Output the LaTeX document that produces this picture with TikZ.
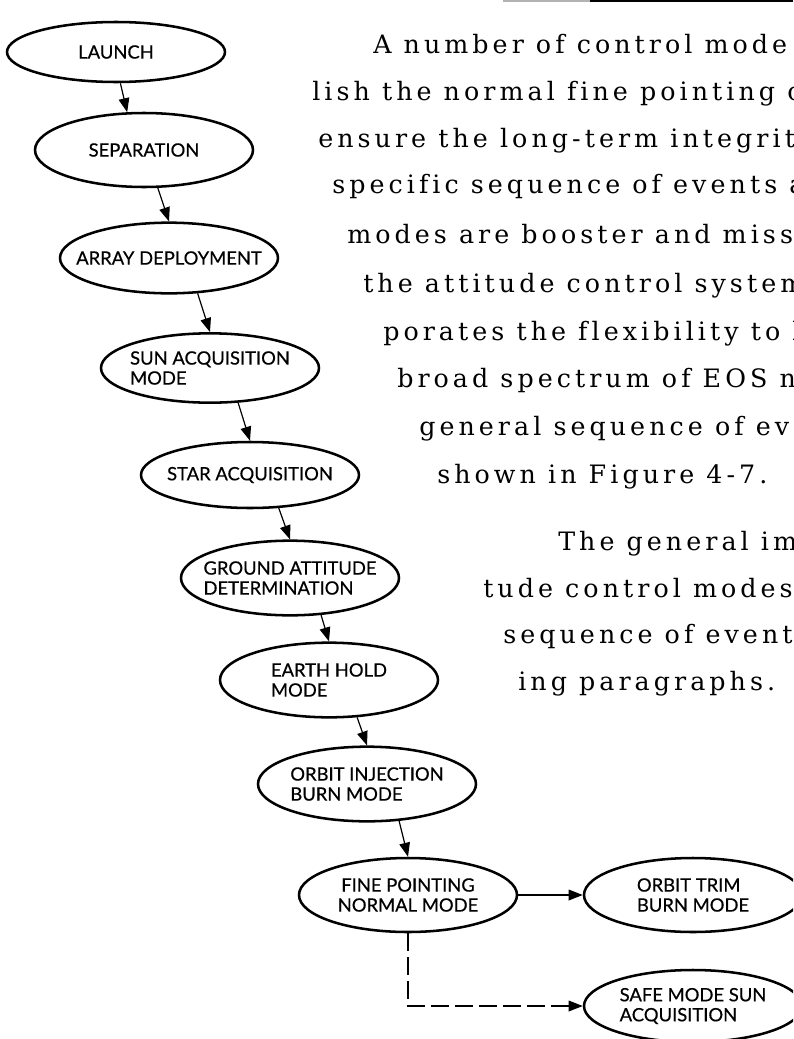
\documentclass[tikz,border=0pt]{standalone}
\usepackage{fontspec}
\newfontfamily\labelfont[FakeBold=0.5]{Lato}
\newfontfamily\pagefont[LetterSpace=16, Ligatures=NoCommon]{DejaVu Serif}
\usetikzlibrary{arrows.meta,shapes.geometric}

\begin{document}
\begin{tikzpicture}[
    x=0.75pt, y=-0.75pt,
    mode/.style={draw, ellipse, line width=1.9pt, minimum width=163.5pt, minimum height=54pt, inner sep=0pt},
    modetext/.style={font=\labelfont\fontsize{13.8}{15}\selectfont, align=left, inner sep=0pt},
    arr/.style={-{Triangle[length=10.5pt,width=8pt]}, line width=0.9pt},
    para/.style={anchor=base west, inner sep=0pt, font=\pagefont\fontsize{19}{23}\selectfont}
]
\useasboundingbox (0,0) rectangle (793,1039);
\clip (0,0) rectangle (793,1039);

% rule at the head of the page
\draw[gray!60, line width=1.5pt] (503,0.8) -- (590,0.8);
\draw[line width=1.5pt] (590,0.8) -- (793,0.8);

% mode sequence
\node[mode, minimum height=45pt, label={[modetext]center:LAUNCH}] (launch) at (116,52) {};
\node[mode, minimum height=55.5pt, label={[modetext]center:SEPARATION}] (sep) at (144,150) {};
\node[mode, minimum height=53pt, label={[modetext]center:ARRAY DEPLOYMENT}] (deploy) at (169,258) {};
\node[mode, minimum height=52pt, label={[modetext]center:{SUN ACQUISITION\\MODE}}] (sunacq) at (210,368) {};
\node[mode, minimum height=49.5pt, label={[modetext]center:STAR ACQUISITION}] (staracq) at (250,475) {};
\node[mode, minimum height=56pt, label={[modetext]center:{GROUND ATTITUDE\\DETERMINATION}}] (gad) at (290,578) {};
\node[mode, minimum height=56pt, label={[modetext]center:{EARTH HOLD\\MODE}}] (earth) at (329,680) {};
\node[mode, minimum height=56pt, label={[modetext]center:{ORBIT INJECTION\\BURN MODE}}] (oib) at (367,784) {};
\node[mode, minimum height=55.5pt, label={[modetext, align=center]center:{FINE POINTING\\NORMAL MODE}}] (fine) at (408,895) {};
\node[mode, minimum height=55.5pt, label={[modetext]center:{ORBIT TRIM\\BURN MODE}}] (trim) at (693,895) {};
\node[mode, label={[modetext]center:{SAFE MODE SUN\\ACQUISITION}}] (safe) at (693,1006) {};

\draw[arr] (launch.-82) -- (sep.114);
\draw[arr] (sep.-70) -- (deploy.north);
\draw[arr] (deploy.-51) -- (sunacq.north);
\draw[arr] (sunacq.-51) -- (staracq.north);
\draw[arr] (staracq.-49) -- (gad.north);
\draw[arr] (gad.-50) -- (earth.north);
\draw[arr] (earth.-53) -- (oib.north);
\draw[arr] (oib.-49) -- (fine.north);
\draw[arr] (fine) -- (trim);
\draw[arr, dashed, dash pattern=on 13pt off 5pt] (fine.south) |- (safe.west);

% running text beside the chart
\node[para] (p1) at (373,53) {A number of control mode};
\node[para] (p2) at (312,100) {lish the normal fine pointing o};
\node[para] (p3) at (318,147) {ensure the long-term integrit};
\node[para] (p4) at (332,193) {specific sequence of events a};
\node[para] (p5) at (347,243) {modes are booster and miss};
\node[para] (p6) at (363,292) {the attitude control system};
\node[para] (p7) at (383,340) {porates the flexibility to l};
\node[para] (p8) at (397,387) {broad spectrum of EOS n};
\node[para] (p9) at (419,435) {general sequence of eve};
\node[para] (p10) at (437,483) {shown in Figure 4-7.};
\node[para] (p11) at (558,550) {The general im};
\node[para] (p12) at (483,597) {tude control modes};
\node[para] (p13) at (503,643) {sequence of events};
\node[para] (p14) at (518,690) {ing paragraphs.};
\end{tikzpicture}
\end{document}
